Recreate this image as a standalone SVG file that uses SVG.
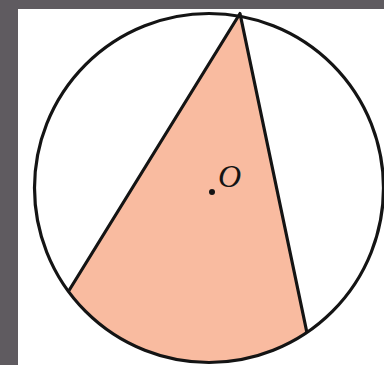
<svg xmlns="http://www.w3.org/2000/svg" width="384" height="365" viewBox="0 0 384 365">
<style>
.ln{stroke:#141414;stroke-width:3.2;stroke-linejoin:round}
</style>
<rect x="0" y="0" width="384" height="365" fill="#5f5b60"/>
<rect x="18" y="9" width="366" height="356" fill="#ffffff"/>
<g id="segment">
<path d="M240,13.5 L69,290.5 A174.5,174.5 0 0 0 307,333 Z" fill="#f9bba0" stroke="none"/>
<path class="ln" d="M69,290.5 L240,13.5 L307,333" fill="none"/>
</g>
<g id="circle">
<circle class="ln" cx="209" cy="188" r="174.5" fill="none"/>
</g>
<g id="center">
<circle cx="212" cy="192" r="3" fill="#141414"/>
<text x="218" y="187" font-family="Liberation Serif, serif" font-style="italic" font-size="32" fill="#141414">O</text>
</g>
</svg>
